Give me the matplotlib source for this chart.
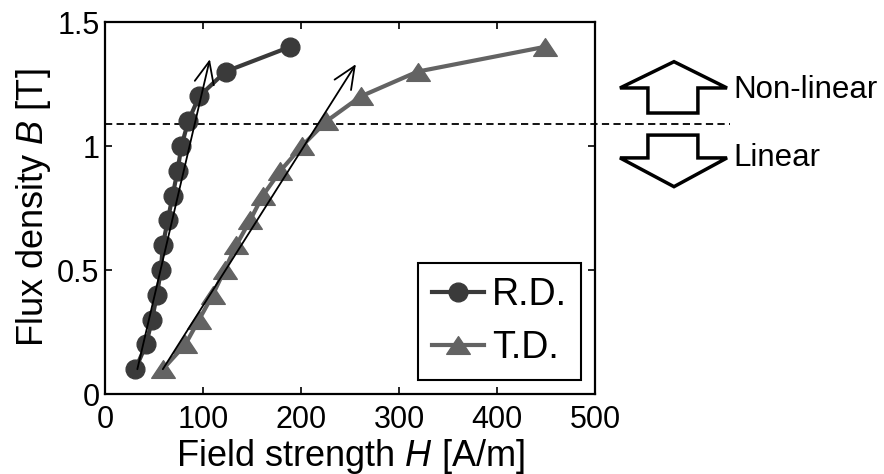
import matplotlib
matplotlib.use("Agg")
import matplotlib.pyplot as plt
from matplotlib.path import Path
from matplotlib.patches import Polygon

plt.rcParams['font.family'] = ['Liberation Sans', 'DejaVu Sans']
plt.rcParams['mathtext.fontset'] = 'custom'
plt.rcParams['mathtext.it'] = 'Liberation Sans:italic'
plt.rcParams['mathtext.rm'] = 'Liberation Sans'

# ---- data ----
B_values = [0.1, 0.2, 0.3, 0.4, 0.5, 0.6, 0.7, 0.8, 0.9, 1.0, 1.1, 1.2, 1.3, 1.4]
H_rd = [31, 42, 48, 53, 57, 59, 64, 69, 74, 78, 85, 96, 123, 189]
H_td = [59, 82, 96, 110, 122, 134, 148, 161, 179, 201, 226, 261, 319, 449]
labels = ["R.D.", "T.D."]
threshold_B = 1.09
arrow_rd = [(33, 0.1), (107, 1.35)]
arrow_td = [(59, 0.1), (256, 1.33)]
x_ticks = [0, 100, 200, 300, 400, 500]
y_ticks = [0, 0.5, 1, 1.5]
y_ticklabels = ["0", "0.5", "1", "1.5"]

c_rd = '#3a3a3a'
c_td = '#636363'

fig = plt.figure(figsize=(8.84, 4.74), dpi=100)
ax = fig.add_axes([105/884, 1-394/474, 490/884, 372/474])

tri = Path([(0, 0.75), (-1, -0.75), (1, -0.75), (0, 0.75)],
           [Path.MOVETO, Path.LINETO, Path.LINETO, Path.CLOSEPOLY])

ax.plot(H_rd, B_values, '-', color=c_rd, lw=3, marker='o', ms=13.5,
        mfc=c_rd, mec=c_rd, label=labels[0], zorder=3)
ax.plot(H_td, B_values, '-', color=c_td, lw=3, marker=tri, ms=17,
        mfc=c_td, mec=c_td, label=labels[1], zorder=3)

for (x0, y0), (x1, y1) in [arrow_rd, arrow_td]:
    ax.annotate('', xy=(x1, y1), xytext=(x0, y0),
                arrowprops=dict(arrowstyle='->,head_length=0.8,head_width=0.35',
                                lw=1.3, color='black', mutation_scale=20,
                                shrinkA=0, shrinkB=0), zorder=4)

ax.plot([0, 638], [threshold_B, threshold_B], color='black', lw=1.3,
        dashes=(4, 2.4), clip_on=False, zorder=2)

# block arrows
up = [(580.6, 1.340), (634.7, 1.234), (605, 1.234), (605, 1.133),
      (554, 1.133), (554, 1.234), (525.5, 1.234)]
down = [(580.6, 0.836), (634.7, 0.952), (605, 0.952), (605, 1.044),
        (554, 1.044), (554, 0.952), (525.5, 0.952)]
for pts in (up, down):
    ax.add_patch(Polygon(pts, closed=True, fill=False, ec='black', lw=2.5,
                         clip_on=False, joinstyle='miter'))
ax.text(640.8, 1.226, "Non-linear", fontsize=22.5, va='center', ha='left')
ax.text(640.8, 0.952, "Linear", fontsize=22.5, va='center', ha='left')

ax.set_xlim(0, 500)
ax.set_ylim(0, 1.5)
ax.set_xticks(x_ticks)
ax.set_xticklabels([str(t) for t in x_ticks])
ax.set_yticks(y_ticks)
ax.set_yticklabels(y_ticklabels)
ax.tick_params(direction='in', length=5, width=1.2, labelsize=22,
               top=True, right=True, pad=4)
ax.tick_params(axis='x', pad=8)
for s in ax.spines.values():
    s.set_linewidth(1.6)

ax.set_xlabel(r"Field strength $H$ [A/m]", fontsize=26, labelpad=1)
ax.set_ylabel(r"Flux density $B$ [T]", fontsize=26, labelpad=3)

leg = ax.legend(loc='lower right', bbox_to_anchor=(0.971, 0.0376),
                borderaxespad=0, fontsize=27, frameon=True, fancybox=False,
                edgecolor='black', handlelength=1.4, handletextpad=0.2,
                borderpad=0.37, labelspacing=0.45)
leg.get_frame().set_linewidth(1.5)
leg.get_frame().set_alpha(1)

fig.savefig("out.png", dpi=100)
